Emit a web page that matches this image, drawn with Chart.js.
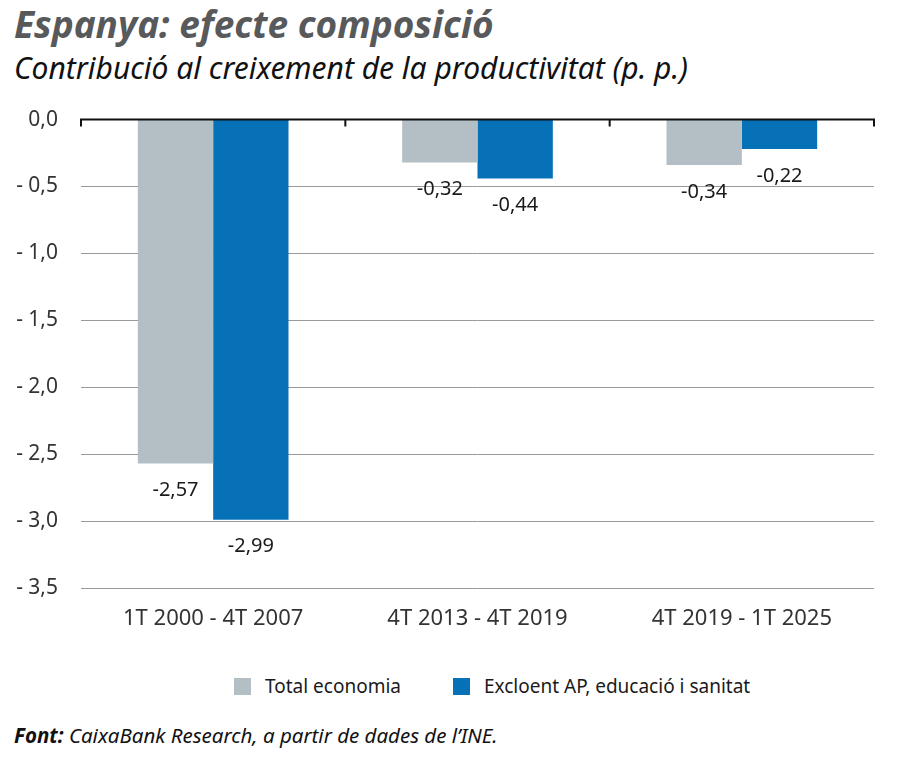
<!DOCTYPE html>
<html>
<head>
<meta charset="utf-8">
<script src="https://cdn.jsdelivr.net/npm/chart.js@4.4.0/dist/chart.umd.min.js"></script>
<style>
  html, body { margin: 0; padding: 0; background: #fff; }
  body { width: 900px; height: 777px; position: relative; overflow: hidden; font-family: 'Noto Sans', sans-serif; }
  .title { position: absolute; left: 14px; top: -2px; font: italic bold 37px 'Noto Sans', sans-serif; color: #58595b; }
  .subtitle { position: absolute; left: 14px; top: 47px; font: italic 30px 'Noto Sans', sans-serif; color: #111; }
  .source { position: absolute; left: 14px; top: 721px; font: italic 20.5px 'Noto Sans', sans-serif; color: #111; }
  .source b { font-weight: bold; }
  #wrap { position: absolute; left: 0; top: 84px; width: 900px; height: 560px; }
  .legend { position: absolute; top: 673px; left: 234px; font: 19px 'Noto Sans', sans-serif; color: #1a1a1a; white-space: nowrap; }
  .legend span.item { display: inline-block; margin-right: 52px; }
  .legend i { display: inline-block; width: 17px; height: 17px; vertical-align: -2px; margin-right: 14px; }
</style>
</head>
<body>
<div class="title">Espanya: efecte composició</div>
<div class="subtitle">Contribució al creixement de la productivitat (p. p.)</div>
<div id="wrap"><canvas id="chart"></canvas></div>
<div class="legend" id="legend"></div>
<div class="source"><b>Font:</b> CaixaBank Research, a partir de dades de l’INE.</div>

<script>
// Data
const categories = ['1T 2000 - 4T 2007', '4T 2013 - 4T 2019', '4T 2019 - 1T 2025'];
const totalEconomia = [-2.57, -0.32, -0.34];
const excloentAP = [-2.99, -0.44, -0.22];
const seriesNames = ['Total economia', 'Excloent AP, educació i sanitat'];

const GREY = '#b3bfc4';
const BLUE = '#0771b8';

const fmt = (v, dec) => v.toFixed(dec).replace('.', ',');

// Value labels drawn under the end of each bar
const valueLabels = {
    id: 'valueLabels',
    afterDatasetsDraw(chart) {
        const ctx = chart.ctx;
        ctx.save();
        ctx.font = "20px 'Noto Sans', sans-serif";
        ctx.fillStyle = '#1a1a1a';
        ctx.textAlign = 'center';
        ctx.textBaseline = 'middle';
        chart.data.datasets.forEach((ds, i) => {
            chart.getDatasetMeta(i).data.forEach((bar, j) => {
                ctx.fillText(fmt(ds.data[j], 2), bar.x, bar.y + 27);
            });
        });
        ctx.restore();
    }
};

// Black zero line with small ticks at category boundaries
const zeroAxis = {
    id: 'zeroAxis',
    afterDatasetsDraw(chart) {
        const ctx = chart.ctx;
        const area = chart.chartArea;
        const y0 = chart.scales.y.getPixelForValue(0);
        ctx.save();
        ctx.strokeStyle = '#111';
        ctx.lineWidth = 2;
        ctx.beginPath();
        ctx.moveTo(area.left, y0);
        ctx.lineTo(area.right, y0);
        const step = (area.right - area.left) / categories.length;
        for (let k = 0; k <= categories.length; k++) {
            const x = area.left + k * step;
            ctx.moveTo(x, y0 - 1);
            ctx.lineTo(x, y0 + 7);
        }
        ctx.stroke();
        ctx.restore();
    }
};

const chart = new Chart(document.getElementById('chart'), {
    type: 'bar',
    data: {
        labels: categories,
        datasets: [{
            label: seriesNames[0],
            data: totalEconomia,
            backgroundColor: GREY,
            borderWidth: 0
        }, {
            label: seriesNames[1],
            data: excloentAP,
            backgroundColor: BLUE,
            borderWidth: 0
        }]
    },
    options: {
        responsive: true,
        maintainAspectRatio: false,
        animation: false,
        layout: { padding: { left: 10, right: 26, top: 5, bottom: 0 } },
        datasets: { bar: { categoryPercentage: 0.57, barPercentage: 1.0 } },
        plugins: {
            legend: { display: false },
            tooltip: { enabled: false }
        },
        scales: {
            x: {
                grid: { display: false },
                border: { display: false },
                ticks: {
                    color: '#333',
                    padding: 10,
                    font: { family: "'Noto Sans', sans-serif", size: 22 }
                },
                afterFit: (s) => { s.height = 56; }
            },
            y: {
                min: -3.5,
                max: 0,
                border: { display: false },
                grid: {
                    color: (c) => c.tick && c.tick.value === 0 ? 'rgba(0,0,0,0)' : '#9a9a9a',
                    lineWidth: 1,
                    drawTicks: false
                },
                ticks: {
                    stepSize: 0.5,
                    padding: 23,
                    color: '#333',
                    font: { family: "'Noto Sans', sans-serif", size: 21 },
                    callback: (v) => v === 0 ? '0,0' : '- ' + fmt(Math.abs(v), 1)
                },
                afterFit: (s) => { s.width = 71; }
            }
        }
    },
    plugins: [valueLabels, zeroAxis]
});

// HTML legend built from the datasets
document.getElementById('legend').innerHTML = chart.data.datasets
    .map(ds => `<span class="item"><i style="background:${ds.backgroundColor}"></i>${ds.label}</span>`)
    .join('');
</script>
</body>
</html>
